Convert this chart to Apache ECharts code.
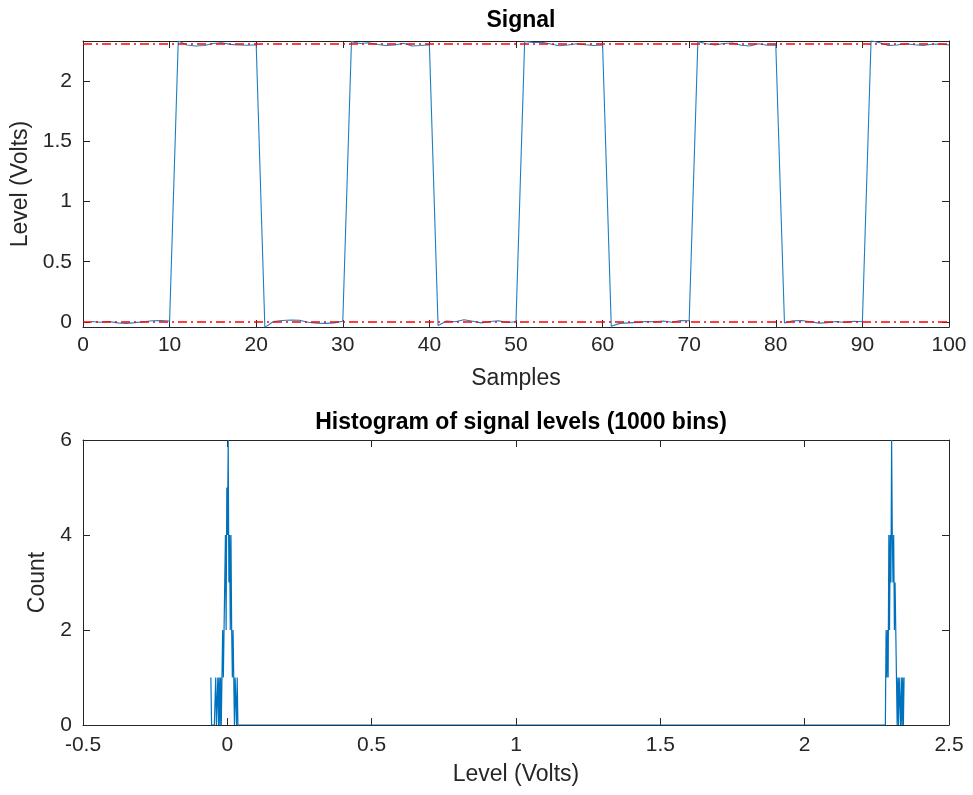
<!DOCTYPE html>
<html>
<head>
<meta charset="utf-8">
<script src="https://cdn.jsdelivr.net/npm/echarts@6/dist/echarts.min.js"></script>
<style>
html,body{margin:0;padding:0;background:#fff;}
#chart{width:973px;height:795px;}
</style>
</head>
<body>
<div id="chart"></div>
<script>
// ---- data ----
const sampleIndex = [1,2,3,4,5,6,7,8,9,10,11,12,13,14,15,16,17,18,19,20,21,22,23,24,25,26,27,28,29,30,31,32,33,34,35,36,37,38,39,40,41,42,43,44,45,46,47,48,49,50,51,52,53,54,55,56,57,58,59,60,61,62,63,64,65,66,67,68,69,70,71,72,73,74,75,76,77,78,79,80,81,82,83,84,85,86,87,88,89,90,91,92,93,94,95,96,97,98,99,100];
const signalLevels = [
  0.004,-0.002,0.003,-0.008,-0.012,-0.006,0.002,0.010,0.012,0.008,
  2.333,2.300,2.292,2.296,2.312,2.318,2.305,2.300,2.298,2.302,
  -0.045,0.004,0.012,0.016,0.014,-0.002,-0.010,-0.012,-0.008,0.006,
  2.328,2.312,2.318,2.304,2.296,2.300,2.314,2.292,2.296,2.302,
  -0.030,0.008,0.002,0.018,0.006,-0.008,0.004,0.010,-0.004,0.002,
  2.330,2.320,2.322,2.308,2.294,2.300,2.310,2.302,2.296,2.300,
  -0.035,-0.012,-0.008,-0.004,0.004,0.002,0.008,-0.002,0.012,0.010,
  2.327,2.310,2.300,2.312,2.316,2.298,2.292,2.310,2.298,2.300,
  -0.008,0.010,0.012,0.002,-0.010,-0.006,0.004,-0.004,0.006,0.002,
  2.335,2.318,2.296,2.300,2.310,2.302,2.296,2.306,2.308,2.300
];
const stateLevels = [0.001, 2.306];

// histogram: bin centers and counts (two occupied clusters; all other bins are 0)
const binWidth = 0.0024;
const lowClusterStart = -0.057;
const lowClusterCounts = [1,0,0,0,0,0,0,1,0,0,1,0,1,0,1,0,1,2,1,2,3,4,2,5,4,6,3,4,2,4,2,1,2,1,0,1,1,0,1,0];
const highClusterStart = 2.2796;
const highClusterCounts = [0,2,1,2,1,4,2,4,3,6,4,3,4,2,3,2,2,0,1,0,1,1,0,1,0,1,0,1];

const topYTicks = [0,0.5,1,1.5,2];

// ---- build series data ----
const signalData = sampleIndex.map((s,i)=>[s, signalLevels[i]]);
const histData = [];
lowClusterCounts.forEach((c,i)=>histData.push([lowClusterStart + i*binWidth, c]));
highClusterCounts.forEach((c,i)=>histData.push([highClusterStart + i*binWidth, c]));

const AX = '#262626';
const FONT = 'Liberation Sans, Arial, Helvetica, sans-serif';
const TICK_FS = 21, NAME_FS = 23, TITLE_FS = 23;

function axisBase(extra){
  return Object.assign({
    axisLine:{show:true, onZero:false, lineStyle:{color:AX, width:1}},
    axisTick:{show:true, inside:true, length:7, lineStyle:{color:AX, width:1}},
    splitLine:{show:false},
    axisLabel:{color:AX, fontSize:TICK_FS, fontFamily:FONT},
    nameTextStyle:{color:AX, fontSize:NAME_FS, fontFamily:FONT}
  }, extra);
}
function mirror(a, pos){
  const m = JSON.parse(JSON.stringify(a));
  m.position = pos; m.name = '';
  m.axisLabel.show = false;
  return m;
}

const topX = axisBase({type:'value', gridIndex:0, min:0, max:100, interval:10, position:'bottom',
  name:'Samples', nameLocation:'middle', nameGap:40});
const topY = axisBase({type:'value', gridIndex:0, min:-0.042, max:2.333, position:'left',
  name:'Level (Volts)', nameLocation:'middle', nameGap:49});
topY.axisLabel.customValues = topYTicks;
topY.axisTick.customValues = topYTicks;
topY.axisLabel.margin = 11;
topX.axisLabel.margin = 8;

const botX = axisBase({type:'value', gridIndex:1, min:-0.5, max:2.5, interval:0.5, position:'bottom',
  name:'Level (Volts)', nameLocation:'middle', nameGap:38});
const botY = axisBase({type:'value', gridIndex:1, min:0, max:6, interval:2, position:'left',
  name:'Count', nameLocation:'middle', nameGap:32});
botX.axisLabel.margin = 10;
botY.axisLabel.margin = 11;

const chart = echarts.init(document.getElementById('chart'), null, {renderer:'canvas'});
chart.setOption({
  animation:false,
  backgroundColor:'#ffffff',
  title:[
    {text:'Signal', left:516, top:4, textAlign:'center',
     textStyle:{fontSize:TITLE_FS, fontWeight:'bold', color:'#000', fontFamily:FONT}},
    {text:'Histogram of signal levels (1000 bins)', left:516, top:406, textAlign:'center',
     textStyle:{fontSize:TITLE_FS, fontWeight:'bold', color:'#000', fontFamily:FONT}}
  ],
  grid:[
    {left:83, top:41, width:866, height:286, show:false},
    {left:83, top:440, width:866, height:285, show:false}
  ],
  xAxis:[topX, mirror(topX,'top'), botX, mirror(botX,'top')],
  yAxis:[topY, mirror(topY,'right'), botY, mirror(botY,'right')],
  series:[
    {type:'line', xAxisIndex:0, yAxisIndex:0, data:signalData, showSymbol:false, symbol:'none',
     lineStyle:{color:'#1a7fc6', width:1.1}, itemStyle:{color:'#1a7fc6'}, z:3,
     markLine:{silent:true, symbol:'none', label:{show:false},
       lineStyle:{color:'#FF0000', width:1.5, type:[9,4,2,4]},
       data: stateLevels.map(v=>({yAxis:v}))}},
    {type:'line', xAxisIndex:2, yAxisIndex:2, data:histData, showSymbol:false, symbol:'none',
     lineStyle:{color:'#0072BD', width:1.2}, itemStyle:{color:'#0072BD'}}
  ]
});
</script>
</body>
</html>
